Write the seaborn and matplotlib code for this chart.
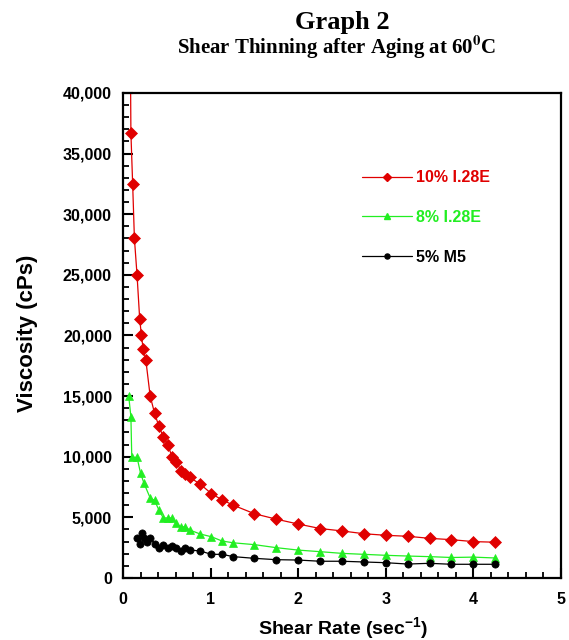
import matplotlib
matplotlib.use("Agg")
import matplotlib.pyplot as plt
import pandas as pd
import seaborn as sns
from matplotlib.lines import Line2D
from matplotlib.ticker import MultipleLocator, StrMethodFormatter

# ---- data ----
series_names = ["10% I.28E", "8% I.28E", "5% M5"]
series_colors = ["#e00000", "#22ee22", "#000000"]

red_x = [0.078, 0.09, 0.11, 0.13, 0.16, 0.19, 0.21, 0.23, 0.26, 0.31, 0.36, 0.41,
         0.46, 0.51, 0.56, 0.61, 0.66, 0.71, 0.76, 0.88, 1.01, 1.13, 1.26, 1.50,
         1.75, 2.00, 2.25, 2.50, 2.75, 3.00, 3.25, 3.50, 3.75, 4.00, 4.25]
red_y = [50000, 36700, 32500, 28000, 25000, 21400, 20000, 18900, 18000, 15000, 13600, 12500,
         11650, 11000, 10000, 9600, 8850, 8550, 8300, 7750, 6950, 6450, 6000, 5300,
         4850, 4450, 4080, 3880, 3650, 3520, 3440, 3270, 3160, 3000, 2950]

green_x = [0.065, 0.09, 0.10, 0.16, 0.20, 0.24, 0.31, 0.36, 0.41, 0.46, 0.51, 0.56,
           0.61, 0.66, 0.71, 0.76, 0.88, 1.01, 1.13, 1.26, 1.50, 1.75, 2.00, 2.25,
           2.50, 2.75, 3.00, 3.25, 3.50, 3.75, 4.00, 4.25]
green_y = [15000, 13300, 9950, 9950, 8650, 7800, 6600, 6400, 5600, 4950, 4950, 4950,
           4500, 4200, 4230, 3960, 3630, 3400, 3050, 2900, 2750, 2500, 2300, 2170,
           2030, 1950, 1870, 1810, 1760, 1690, 1720, 1650]

black_x = [0.16, 0.19, 0.22, 0.24, 0.27, 0.31, 0.36, 0.41, 0.46, 0.51, 0.56, 0.61,
           0.66, 0.71, 0.76, 0.88, 1.01, 1.13, 1.26, 1.50, 1.75, 2.00, 2.25, 2.50,
           2.75, 3.00, 3.25, 3.50, 3.75, 4.00, 4.25]
black_y = [3330, 2830, 3740, 3270, 2940, 3330, 2830, 2500, 2690, 2500, 2660, 2500,
           2250, 2500, 2310, 2230, 1950, 1950, 1760, 1620, 1510, 1480, 1380, 1380,
           1320, 1260, 1150, 1210, 1130, 1130, 1130]

x_ticks = [0, 1, 2, 3, 4, 5]
y_ticks = [0, 5000, 10000, 15000, 20000, 25000, 30000, 35000, 40000]

# ---- style ----
sns.set_style("ticks")
plt.rcParams["font.family"] = ["Liberation Sans", "DejaVu Sans"]
plt.rcParams["font.weight"] = "bold"
plt.rcParams["text.color"] = "black"
plt.rcParams["axes.labelcolor"] = "black"
plt.rcParams["xtick.color"] = "black"
plt.rcParams["ytick.color"] = "black"
plt.rcParams["mathtext.fontset"] = "custom"
plt.rcParams["mathtext.rm"] = "Liberation Sans:bold"
plt.rcParams["mathtext.bf"] = "Liberation Sans:bold"
plt.rcParams["mathtext.it"] = "Liberation Sans:bold"
plt.rcParams["mathtext.default"] = "rm"

fig = plt.figure(figsize=(5.69, 6.40), dpi=100)
ax = fig.add_axes([0.2162, 0.0969, 0.7697, 0.7578])

frames = [
    pd.DataFrame({"rate": red_x, "visc": red_y, "series": series_names[0]}),
    pd.DataFrame({"rate": green_x, "visc": green_y, "series": series_names[1]}),
    pd.DataFrame({"rate": black_x, "visc": black_y, "series": series_names[2]}),
]
markers = ["D", "^", "o"]
msizes = [6.0, 5.5, 5.2]

for df, color, mk, ms in zip(frames, series_colors, markers, msizes):
    sns.lineplot(data=df, x="rate", y="visc", color=color, marker=mk,
                 markersize=ms, markeredgecolor=color, markeredgewidth=0.5,
                 linewidth=0.9, estimator=None, sort=False, ax=ax, legend=False)

ax.set_xlim(0, 5)
ax.set_ylim(0, 40000)
ax.xaxis.set_major_locator(MultipleLocator(1))
ax.xaxis.set_minor_locator(MultipleLocator(0.2))
ax.yaxis.set_major_locator(MultipleLocator(5000))
ax.yaxis.set_minor_locator(MultipleLocator(1000))
ax.set_xticks(x_ticks)
ax.set_yticks(y_ticks)
ax.yaxis.set_major_formatter(StrMethodFormatter("{x:,.0f}"))

for sp in ax.spines.values():
    sp.set_linewidth(1.6)
    sp.set_color("black")
    sp.set_visible(True)

ax.tick_params(which="major", direction="in", length=7, width=1.5,
               labelsize=11.5, top=False, right=False)
ax.tick_params(which="minor", direction="in", length=4, width=1.3,
               top=False, right=False)
ax.tick_params(axis="x", which="major", pad=10)
ax.tick_params(axis="y", which="major", pad=8)
for lab in ax.get_xticklabels() + ax.get_yticklabels():
    lab.set_fontweight("bold")

ax.set_xlabel(r"Shear Rate (sec$^{-1}$)", fontsize=14, fontweight="bold", va="center")
ax.xaxis.set_label_coords(0.502, -0.104)
ax.set_ylabel("Viscosity (cPs)", fontsize=16, fontweight="bold", va="center")
ax.yaxis.set_label_coords(-0.219, 0.505)

handles = [Line2D([], [], color=c, marker=m, markersize=s * 0.7,
                  markeredgecolor=c, linewidth=0.9)
           for c, m, s in zip(series_colors, markers, msizes)]
ax.legend(handles, series_names, loc="upper left", bbox_to_anchor=(0.5457, 0.841),
          frameon=False, prop={"size": 11.5, "weight": "bold"}, handlelength=3.1,
          handletextpad=0.25, labelspacing=1.55, borderpad=0, borderaxespad=0,
          labelcolor="linecolor")

fig.text(342 / 569, 1 - 29 / 640, "Graph 2", family="Liberation Serif",
         weight="bold", size=19, ha="center", va="baseline")
fig.text(337 / 569, 1 - 54 / 640, r"Shear Thinning after Aging at 60$^{\mathbf{0}}$C",
         family="Liberation Serif", weight="bold", size=15, ha="center",
         va="baseline", math_fontfamily="stix")

fig.savefig("out.png", dpi=100)
